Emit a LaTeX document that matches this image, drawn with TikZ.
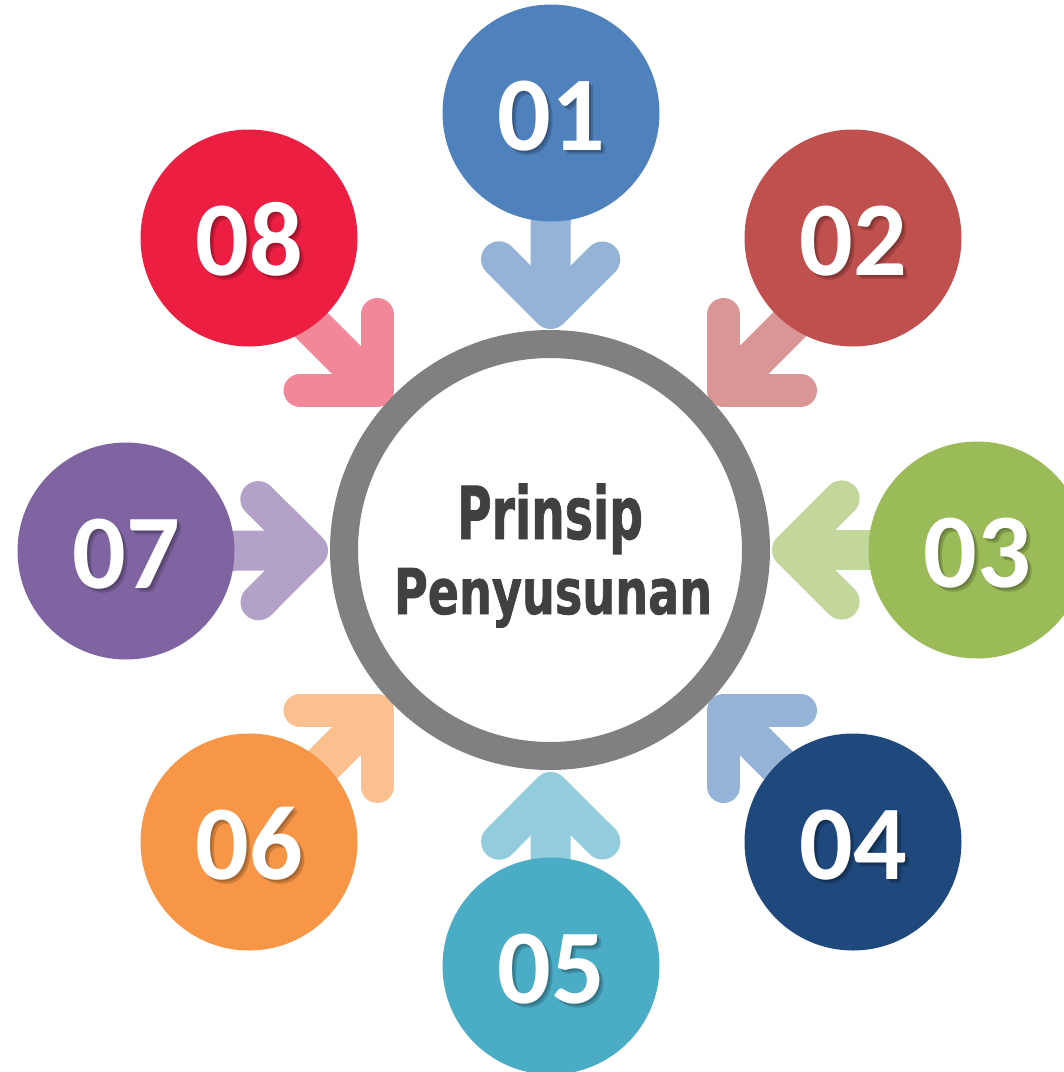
\documentclass[tikz,border=0pt]{standalone}
\usepackage{fontspec}
\setmainfont{Carlito}
\newfontfamily\titlefont{DejaVu Sans Condensed}[FakeBold=1.2]
\usetikzlibrary{calc}
\definecolor{cA}{HTML}{4F81BD}\definecolor{aA}{HTML}{95B3D7}
\definecolor{cB}{HTML}{C0504D}\definecolor{aB}{HTML}{D99694}
\definecolor{cC}{HTML}{9BBB59}\definecolor{aC}{HTML}{C3D69B}
\definecolor{cD}{HTML}{1F497D}\definecolor{aD}{HTML}{95B3D7}
\definecolor{cE}{HTML}{4BACC6}\definecolor{aE}{HTML}{93CDDD}
\definecolor{cF}{HTML}{F79646}\definecolor{aF}{HTML}{FAC090}
\definecolor{cG}{HTML}{8064A2}\definecolor{aG}{HTML}{B3A2C7}
\definecolor{cH}{HTML}{EC1E42}\definecolor{aH}{HTML}{F3879A}
\definecolor{ringgray}{HTML}{808080}
\definecolor{titlegray}{HTML}{404040}
\pgfdeclarelayer{back}
\pgfsetlayers{back,main}
\tikzset{
  petal/.style={circle, minimum size=217pt, inner sep=0pt, fill=#1},
  ring/.style={circle, minimum size=412pt, inner sep=0pt, draw=ringgray, line width=28pt, fill=white},
  numtxt/.style={font=\fontsize{106}{106}\selectfont\bfseries, text=white, anchor=base, inner sep=0pt},
  numshadow/.style={numtxt, text=black, opacity=0.17},
  shaft/.style={line width=40pt, draw=#1, line cap=butt},
  chevron/.style={draw=#1, line cap=round, line join=round},
  titletxt/.style={text=titlegray, anchor=base, inner sep=0pt},
}
% straight arrow: chevron computed from the direction to the petal
\newcommand\arrowto[5]{%
  \coordinate (#1v) at ($(C.center)!#3!(#1.center)$);
  \coordinate (#1a) at ($(#1v)!#4!45:(#1.center)$);
  \coordinate (#1b) at ($(#1v)!#4!-45:(#1.center)$);
  \draw[shaft=#2] (#1.center) -- (#1v);
  \draw[chevron=#2, line width=#5] (#1a) -- (#1v) -- (#1b);
}
% diagonal arrow: L-shaped head with axis-aligned arms, 45 degree shaft
\newcommand\diagarrow[7]{% node, colour, vertex, arm1 offset, arm2 offset, width, shaft offset
  \coordinate (#1v) at #3;
  \coordinate (#1a) at ($(#1v)+#4$);
  \coordinate (#1b) at ($(#1v)+#5$);
  \coordinate (#1s) at ($(#1v)+#7$);
  \draw[shaft=#2] (#1s) -- (#1v);
  \draw[chevron=#2, line width=#6] (#1a) -- (#1v) -- (#1b);
}
\newcommand\numlabel[2]{%
  \node[numshadow] at ($(#1.center)+(2.5,39.5)$) {#2};
  \node[numshadow] at ($(#1.center)+(4,41)$) {#2};
  \node[numtxt] at ($(#1.center)+(0,37)$) {#2};
}
\begin{document}
\begin{tikzpicture}[x=1pt, y=-1pt]
  \useasboundingbox (0,0) rectangle (1064,1072);
  \clip (0,0) rectangle (1064,1072);
  % centre ring
  \node[ring] (C) at (550,550) {};
  % petals
  \node[petal=cA] (n1) at (551,113) {};
  \node[petal=cB] (n2) at (853,238) {};
  \node[petal=cC] (n3) at (977,550) {};
  \node[petal=cD] (n4) at (853,842) {};
  \node[petal=cE] (n5) at (551,966) {};
  \node[petal=cF] (n6) at (249,842) {};
  \node[petal=cG] (n7) at (126,551) {};
  \node[petal=cH] (n8) at (249,238) {};
  % arrows behind
  \begin{pgfonlayer}{back}
    \arrowto{n1}{aA}{239pt}{73pt}{36pt}
    \arrowto{n3}{aC}{240pt}{73pt}{36pt}
    \arrowto{n5}{aE}{240pt}{73pt}{36pt}
    \arrowto{n7}{aG}{240pt}{73pt}{36pt}
    \diagarrow{n2}{aB}{(723.5,390.5)}{(0,-76)}{(77,0)}{33pt}{(130,-130)}
    \diagarrow{n4}{aD}{(723.5,710.5)}{(0,76)}{(77,0)}{33pt}{(130,130)}
    \diagarrow{n6}{aF}{(377,710.5)}{(0,76)}{(-77,0)}{33pt}{(-130,130)}
    \diagarrow{n8}{aH}{(377,390.5)}{(0,-76)}{(-77,0)}{33pt}{(-130,-130)}
  \end{pgfonlayer}
  % numbers
  \numlabel{n1}{01}
  \numlabel{n2}{02}
  \numlabel{n3}{03}
  \numlabel{n4}{04}
  \numlabel{n5}{05}
  \numlabel{n6}{06}
  \numlabel{n7}{07}
  \numlabel{n8}{08}
  % title
  \node[titletxt, font=\titlefont\bfseries\fontsize{73}{73}\selectfont] (t1) at (550,539) {\resizebox{186pt}{\height}{Prinsip}};
  \node[titletxt, font=\titlefont\bfseries\fontsize{63}{63}\selectfont] (t2) at (553,614) {\resizebox{318pt}{\height}{Penyusunan}};
\end{tikzpicture}
\end{document}
